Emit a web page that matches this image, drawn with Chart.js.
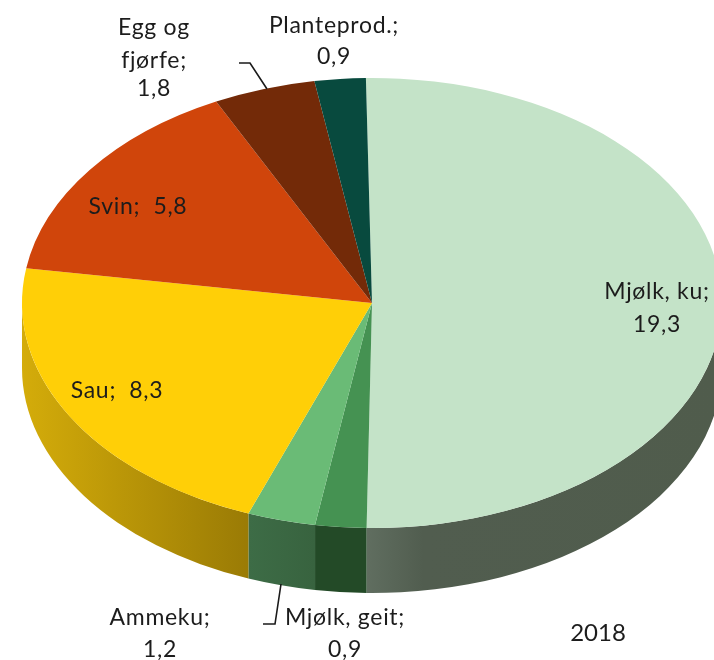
<!DOCTYPE html>
<html>
<head>
<meta charset="utf-8">
<style>html,body{margin:0;padding:0;background:#fff;overflow:hidden}canvas{display:block}</style>
<script src="https://cdn.jsdelivr.net/npm/chart.js@4"></script>
</head>
<body>
<canvas id="c" width="714" height="660"></canvas>
<script>
const categories = ['Mjølk, ku','Mjølk, geit','Ammeku','Sau','Svin','Egg og fjørfe','Planteprod.'];
const values = [19.3,0.9,1.2,8.3,5.8,1.8,0.9];
const year = '2018';
const topColors = ['#c4e3c8','#459252','#6abb76','#ffcf07','#d0450b','#732a08','#084a3e'];
const wallStops = [
  [[0,'#606e60'],[0.16,'#515d4f'],[1,'#505c4c']],
  [[0,'#234a27'],[1,'#234a27']],
  [[0,'#3d6c46'],[1,'#38633f']],
  [[0,'#d4ac0a'],[1,'#9a7b05']],
  null,null,null
];
const GEOM = {cx:372, cy:303, rx:350, ry:225, depth:65};
const FONT = '23px Lato, sans-serif';
const YEAR_FONT = '24px Lato, sans-serif';
const labelPlacement = [
  {lines:['Mjølk, ku;','19,3'], x:657, ys:[292,325]},
  {lines:['Mjølk, geit;','0,9'], x:345, ys:[618,650]},
  {lines:['Ammeku;','1,2'], x:160, ys:[618,650]},
  {lines:['Sau;  8,3'], x:117, ys:[391]},
  {lines:['Svin;  5,8'], x:138, ys:[207]},
  {lines:['Egg og','fjørfe;','1,8'], x:154, ys:[28,61,89]},
  {lines:['Planteprod.;','0,9'], x:334, ys:[26,57]}
];
const leaders = [
  [[239,63],[250,63],[267,89]],
  [[263,624],[275,624],[281,584]]
];

const pseudo3d = {
  id:'pseudo3d',
  beforeDatasetsDraw(chart){
    const {ctx} = chart;
    const arcs = chart.getDatasetMeta(0).data;
    const {cx,cy,rx,ry,depth} = GEOM;
    arcs.forEach((arc,i)=>{
      if(!wallStops[i]) return;
      const p = arc.getProps(['startAngle','endAngle'],true);
      const a = Math.max(p.startAngle,0), b = Math.min(p.endAngle,Math.PI);
      if(b<=a) return;
      const xa = cx+rx*Math.cos(a), xb = cx+rx*Math.cos(b);
      const g = ctx.createLinearGradient(Math.min(xa,xb),0,Math.max(xa,xb),0);
      wallStops[i].forEach(s=>g.addColorStop(s[0],s[1]));
      ctx.save();
      ctx.beginPath();
      ctx.ellipse(cx,cy,rx,ry,0,a,b,false);
      ctx.ellipse(cx,cy+depth,rx,ry,0,b,a,true);
      ctx.closePath();
      ctx.fillStyle = g;
      ctx.fill();
      ctx.restore();
    });
    const k = arcs[0].getProps(['x','y','outerRadius'],true);
    ctx.save();
    const sx = rx/k.outerRadius, sy = ry/k.outerRadius;
    ctx.setTransform(sx,0,0,sy,cx-k.x*sx,cy-k.y*sy);
  },
  afterDatasetsDraw(chart){
    const {ctx} = chart;
    ctx.restore();
    ctx.save();
    ctx.strokeStyle = '#1a1a1a';
    ctx.lineWidth = 1.6;
    leaders.forEach(l=>{
      ctx.beginPath();
      l.forEach((p,i)=> i?ctx.lineTo(p[0],p[1]):ctx.moveTo(p[0],p[1]));
      ctx.stroke();
    });
    ctx.fillStyle = '#1c1c1c';
    ctx.font = FONT;
    ctx.letterSpacing = '0.7px';
    ctx.textAlign = 'center';
    ctx.textBaseline = 'middle';
    labelPlacement.forEach(t=>{
      t.lines.forEach((s,j)=>ctx.fillText(s,t.x,t.ys[j]));
    });
    ctx.letterSpacing = '0px';
    ctx.font = YEAR_FONT;
    ctx.fillText(year,598,633);
    ctx.restore();
  }
};

new Chart(document.getElementById('c'),{
  type:'pie',
  data:{labels:categories,datasets:[{data:values,backgroundColor:topColors,borderWidth:0}]},
  options:{
    responsive:false,
    animation:false,
    rotation:-1,
    layout:{padding:0},
    plugins:{legend:{display:false},title:{display:false},tooltip:{enabled:false}}
  },
  plugins:[pseudo3d]
});
</script>
</body>
</html>
